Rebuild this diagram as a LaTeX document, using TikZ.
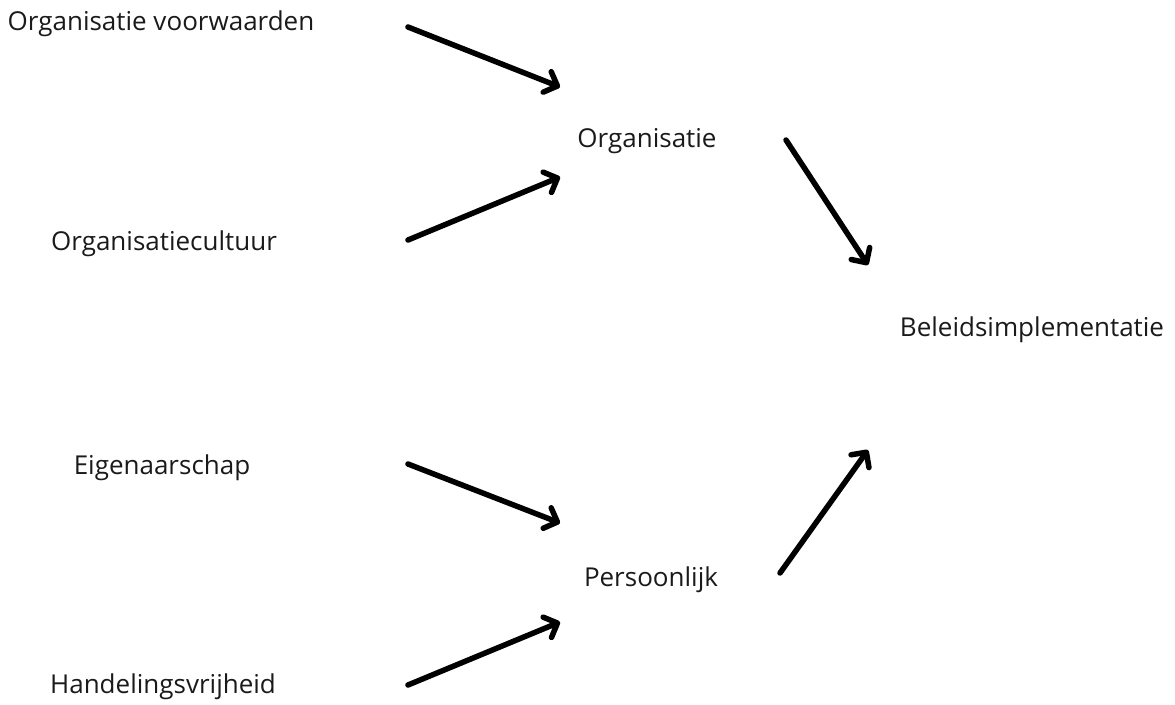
\documentclass[tikz,border=0pt]{standalone}
\usepackage{fontspec}
\setmainfont{Open Sans}
\usetikzlibrary{arrows.meta}
\definecolor{ink}{HTML}{1A1A1A}
\begin{document}
\begin{tikzpicture}[x=1pt,y=-1pt,
  label/.style={text=ink,font=\fontsize{26}{30}\selectfont,inner sep=0pt,anchor=center},
  flow/.style={line width=5.5pt,line cap=round,line join=round,
    -{Straight Barb[length=11pt,width=22pt,line cap=round,line join=round]}}]
  \useasboundingbox (0,0) rectangle (1175,704);
  % factors
  \node[label] (ov) at (161,24) {Organisatie voorwaarden};
  \node[label] (oc) at (164,244) {Organisatiecultuur};
  \node[label] (eg) at (162,468) {Eigenaarschap};
  \node[label] (hv) at (163,687) {Handelingsvrijheid};
  % intermediate
  \node[label] (org) at (647,141) {Organisatie};
  \node[label] (per) at (651,580) {Persoonlijk};
  % outcome
  \node[label] (bi) at (1032,330) {Beleidsimplementatie};
  % arrow end points
  \coordinate (ov-s) at (408,27);   \coordinate (ov-e) at (560,87);
  \coordinate (oc-s) at (408,240);  \coordinate (oc-e) at (560,177);
  \coordinate (org-s) at (786,140); \coordinate (org-e) at (868,265);
  \coordinate (eg-s) at (408,464);  \coordinate (eg-e) at (560,523);
  \coordinate (hv-s) at (408,685);  \coordinate (hv-e) at (560,622);
  \coordinate (per-s) at (780,573); \coordinate (per-e) at (868,450);
  \draw[flow] (ov-s) -- (ov-e);
  \draw[flow] (oc-s) -- (oc-e);
  \draw[flow] (org-s) -- (org-e);
  \draw[flow] (eg-s) -- (eg-e);
  \draw[flow] (hv-s) -- (hv-e);
  \draw[flow] (per-s) -- (per-e);
\end{tikzpicture}
\end{document}
